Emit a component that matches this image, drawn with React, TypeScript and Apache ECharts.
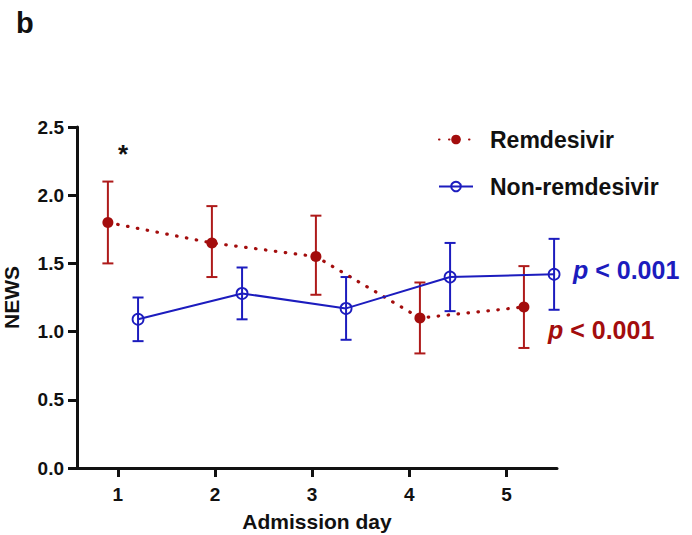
import React, { useEffect, useRef } from "react";
import * as echarts from "echarts";

const days = [1, 2, 3, 4, 5];
const xTickValues = [1, 2, 3, 4, 5];
const yTickLabels = ["0.0", "0.5", "1.0", "1.5", "2.0", "2.5"];

const remMean = [1.8, 1.65, 1.55, 1.1, 1.18];
const remLow = [1.5, 1.4, 1.27, 0.84, 0.88];
const remHigh = [2.1, 1.92, 1.85, 1.36, 1.48];

const nonMean = [1.09, 1.28, 1.17, 1.4, 1.42];
const nonLow = [0.93, 1.09, 0.94, 1.15, 1.16];
const nonHigh = [1.25, 1.47, 1.4, 1.65, 1.68];

const seriesNames = ["Remdesivir", "Non-remdesivir"];
const pLabel = "< 0.001";

const RED = "#A30D0D";
const RED_BAR = "#AE1A1A";
const BLUE = "#1C1CBE";
const FONT = "'Liberation Sans', Arial, Helvetica, sans-serif";
const DODGE = 0.145;

function errorBarSeries(name: string, xs: number[], lows: number[], highs: number[], color: string) {
  return {
    name,
    type: "custom",
    xAxisIndex: 1,
    yAxisIndex: 0,
    data: xs.map((x, i) => [x, lows[i], highs[i]]),
    z: 3,
    silent: true,
    renderItem: (params: any, api: any) => {
      const x = api.value(0);
      const pLo = api.coord([x, api.value(1)]);
      const pHi = api.coord([x, api.value(2)]);
      const hw = 5.5;
      const style = { stroke: color, lineWidth: 2, fill: "none" };
      return {
        type: "group",
        children: [
          { type: "line", shape: { x1: pLo[0], y1: pLo[1], x2: pHi[0], y2: pHi[1] }, style },
          { type: "line", shape: { x1: pLo[0] - hw, y1: pLo[1], x2: pLo[0] + hw, y2: pLo[1] }, style },
          { type: "line", shape: { x1: pHi[0] - hw, y1: pHi[1], x2: pHi[0] + hw, y2: pHi[1] }, style },
        ],
      };
    },
  };
}

export default function App() {
  const ref = useRef<HTMLDivElement>(null);
  useEffect(() => {
    if (!ref.current) return;
    const chart = echarts.init(ref.current, undefined, { renderer: "svg" });
    const remX = days.map((d) => d - DODGE);
    const nonX = days.map((d) => d + DODGE);
    const axisText = { fontFamily: FONT, fontWeight: "bold", fontSize: 19, color: "#111" };
    chart.setOption({
      animation: false,
      backgroundColor: "#fff",
      textStyle: { fontFamily: FONT },
      grid: { left: 77, right: 135, top: 127, bottom: 67, containLabel: false, outerBoundsMode: "none" },
      legend: {
        data: seriesNames,
        orient: "vertical",
        left: 433,
        top: 122,
        itemWidth: 34,
        itemHeight: 12,
        itemGap: 22,
        textStyle: {
          fontFamily: FONT,
          fontWeight: "bold",
          fontSize: 23,
          color: "#111",
          padding: [0, 0, 0, 12],
          lineHeight: 25,
        },
        selectedMode: false,
      },
      xAxis: [
        {
          type: "value",
          min: 0.58,
          max: 5.52,
          name: "Admission day",
          nameLocation: "middle",
          nameGap: 43,
          nameTextStyle: { fontFamily: FONT, fontWeight: "bold", fontSize: 21, color: "#111" },
          axisLine: { show: true, onZero: false, lineStyle: { color: "#111", width: 3 } },
          axisTick: { show: true, length: 9, lineStyle: { color: "#111", width: 3 }, customValues: xTickValues },
          axisLabel: { ...axisText, margin: 17, customValues: xTickValues },
          splitLine: { show: false },
        },
        {
          type: "value",
          min: 0.558,
          max: 5.173,
          show: false,
          splitLine: { show: false },
        },
      ],
      yAxis: {
        type: "value",
        min: 0,
        max: 2.5,
        interval: 0.5,
        name: "NEWS",
        nameLocation: "middle",
        nameGap: 55,
        nameTextStyle: { fontFamily: FONT, fontWeight: "bold", fontSize: 21, color: "#111" },
        axisLine: { show: true, lineStyle: { color: "#111", width: 3 } },
        axisTick: { show: true, length: 9, lineStyle: { color: "#111", width: 3 } },
        axisLabel: {
          ...axisText,
          margin: 13,
          formatter: (v: number) => yTickLabels[Math.round(v / 0.5)] ?? v.toFixed(1),
        },
        splitLine: { show: false },
      },
      series: [
        errorBarSeries("remErr", remX, remLow, remHigh, RED_BAR),
        errorBarSeries("nonErr", nonX, nonLow, nonHigh, BLUE),
        {
          name: seriesNames[0],
          type: "line",
          xAxisIndex: 1,
          yAxisIndex: 0,
          data: remX.map((x, i) => [x, remMean[i]]),
          symbol: "circle",
          symbolSize: 11,
          z: 4,
          itemStyle: { color: RED },
          lineStyle: { color: RED, width: 3.2, type: [0.5, 9.5], cap: "round" },
        },
        {
          name: seriesNames[1],
          type: "line",
          xAxisIndex: 1,
          yAxisIndex: 0,
          data: nonX.map((x, i) => [x, nonMean[i]]),
          symbol: "circle",
          symbolSize: 11,
          z: 4,
          itemStyle: { color: "rgba(255,255,255,0)", borderColor: BLUE, borderWidth: 1.8 },
          lineStyle: { color: BLUE, width: 2 },
        },
      ],
      graphic: [
        {
          type: "text",
          left: 16,
          top: 8,
          style: { text: "b", font: `bold 29px ${FONT}`, fill: "#111" },
        },
        {
          type: "text",
          x: 123,
          y: 154,
          style: { text: "*", font: `bold 26px ${FONT}`, fill: "#111", align: "center", verticalAlign: "middle" },
        },
        {
          type: "text",
          x: 573,
          y: 270,
          style: {
            text: `{i|p} ${pLabel}`,
            font: `bold 25px ${FONT}`,
            fill: BLUE,
            verticalAlign: "middle",
            rich: { i: { fontStyle: "italic", fontWeight: "bold", fontSize: 25, fontFamily: FONT, fill: BLUE } },
          },
        },
        {
          type: "text",
          x: 548,
          y: 330,
          style: {
            text: `{i|p} ${pLabel}`,
            font: `bold 25px ${FONT}`,
            fill: RED,
            verticalAlign: "middle",
            rich: { i: { fontStyle: "italic", fontWeight: "bold", fontSize: 25, fontFamily: FONT, fill: RED } },
          },
        },
      ],
    });
    return () => chart.dispose();
  }, []);
  return (
    <div
      ref={ref}
      style={{ position: "fixed", left: 0, top: 0, width: 692, height: 535, background: "#fff" }}
    />
  );
}
